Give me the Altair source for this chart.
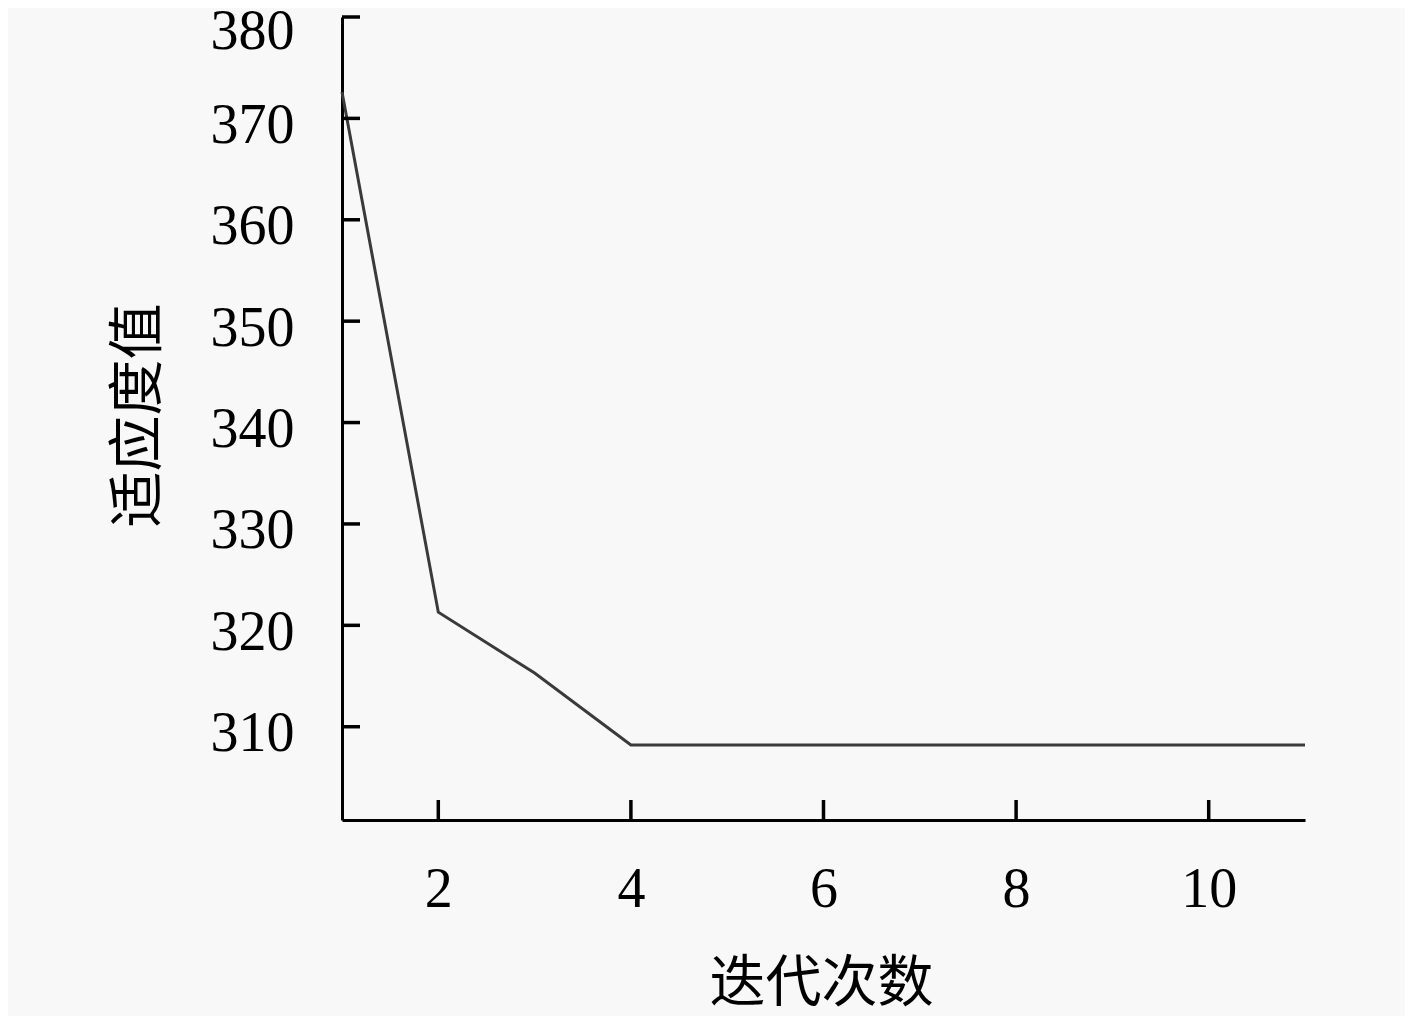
import altair as alt
import pandas as pd

iterations = [1, 2, 3, 4, 5, 6, 7, 8, 9, 10, 11]
fitness = [372.6, 321.3, 315.3, 308.2, 308.2, 308.2, 308.2, 308.2, 308.2, 308.2, 308.2]
x_ticks = [2, 4, 6, 8, 10]
y_ticks = [310, 320, 330, 340, 350, 360, 370, 380]

W, H = 963, 803
df = pd.DataFrame({"iter": iterations, "fit": fitness})
xt = pd.DataFrame({"t": x_ticks})
yt = pd.DataFrame({"t": y_ticks})

xscale = alt.Scale(domain=[1, 11], nice=False, zero=False)
yscale = alt.Scale(domain=[300.8, 380], nice=False, zero=False)

line = alt.Chart(df).mark_line(color="#3a3a3a", strokeWidth=3).encode(
    x=alt.X("iter:Q", scale=xscale, axis=alt.Axis(
        values=x_ticks, format="d", title="迭代次数", tickSize=0, labelPadding=42,
        labelFont="Liberation Serif", labelFontSize=56, labelColor="#000",
        titleFont="Noto Sans CJK SC", titleFontSize=56, titleFontWeight="normal",
        titleColor="#000", titleX=479, titleY=163, titleBaseline="middle",
        domainColor="#000", domainWidth=3, grid=False)),
    y=alt.Y("fit:Q", scale=yscale, axis=alt.Axis(
        values=y_ticks, format="d", title="适应度值", tickSize=0, labelPadding=48,
        labelFont="Liberation Serif", labelFontSize=56, labelColor="#000",
        labelBaseline="middle",
        labelOffset={"condition": {"test": "datum.value == 380", "value": 14}, "value": 7},
        titleFont="Noto Sans CJK SC", titleFontSize=56, titleFontWeight="normal",
        titleColor="#000", titleX=-204, titleY=398, titleAngle=-90,
        titleBaseline="middle", titleAlign="center",
        domainColor="#000", domainWidth=3, grid=False)),
)

xticks = alt.Chart(xt).mark_tick(orient="vertical", size=20, thickness=3.5,
                                 color="#000", opacity=1).encode(
    x=alt.X("t:Q", scale=xscale), y=alt.value(H - 10))
yticks = alt.Chart(yt).mark_tick(orient="horizontal", size=18, thickness=3.5,
                                 color="#000", opacity=1).encode(
    y=alt.Y("t:Q", scale=yscale), x=alt.value(9))

chart = alt.layer(line, xticks, yticks).properties(
    width=W, height=H,
    autosize=alt.AutoSizeParams(type="none"),
    padding={"left": 334, "top": 9, "right": 100, "bottom": 200},
    background="#f8f8f8",
).configure_view(stroke=None)

chart.save("out.html", embed_options={"renderer": "svg", "actions": False})
